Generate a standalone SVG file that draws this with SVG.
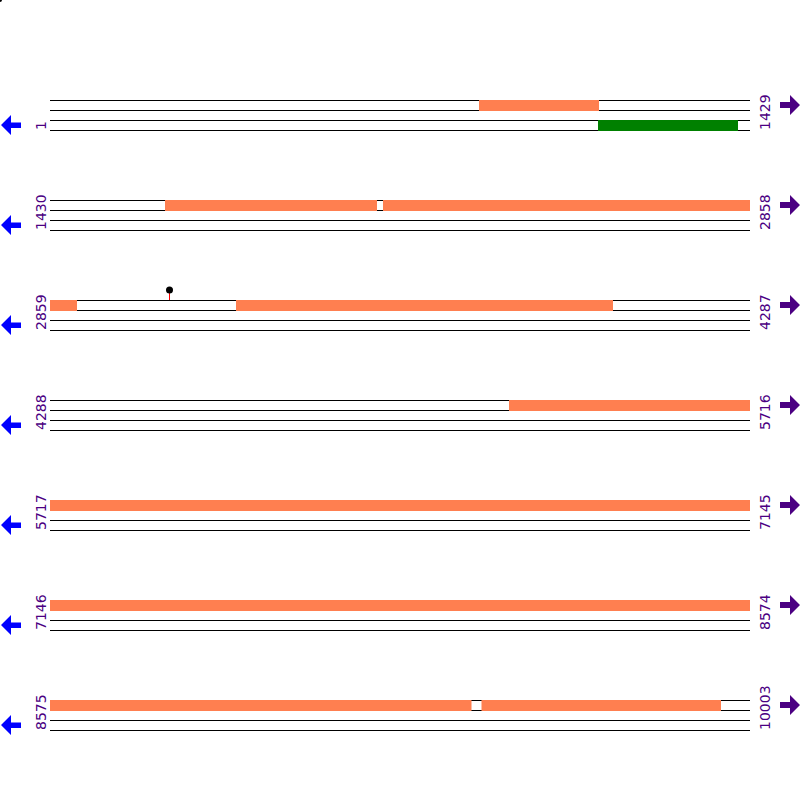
<svg xmlns="http://www.w3.org/2000/svg" width="800" height="800" viewBox="0 0 800 800">
<style>
.trk{stroke:#000;stroke-width:1;fill:none}
.orf{fill:#FF7F50}
.grn{fill:#008000}
.lbl{font-family:"DejaVu Sans",sans-serif;font-size:14px;fill:#4B0082}
.la{fill:#0000FF}
.ra{fill:#4B0082}
</style>
<defs>
<g id="tracks">
<line class="trk" x1="50" y1="0.5" x2="750" y2="0.5"/>
<line class="trk" x1="50" y1="10.5" x2="750" y2="10.5"/>
<line class="trk" x1="50" y1="20.5" x2="750" y2="20.5"/>
<line class="trk" x1="50" y1="30.5" x2="750" y2="30.5"/>
</g>
<polygon id="larrow" points="1,25 11,15 11,22.5 21,22.5 21,28 11,28 11,35"/>
<polygon id="rarrow" points="780,2 790,2 790,-5 800,5 790,15 790,8 780,8"/>
</defs>
<rect width="800" height="800" fill="#fff"/>
<circle cx="0" cy="0" r="2" fill="#000"/>

<g id="row1" transform="translate(0,100)">
<use href="#tracks"/>
<rect class="orf" x="479" y="0" width="120" height="11"/>
<rect class="grn" x="598" y="20" width="140" height="11"/>
<use href="#larrow" class="la"/>
<use href="#rarrow" class="ra"/>
<text class="lbl" transform="translate(46,30) rotate(-90)">1</text>
<text class="lbl" transform="translate(770,30) rotate(-90)">1429</text>
</g>

<g id="row2" transform="translate(0,200)">
<use href="#tracks"/>
<rect class="orf" x="165" y="0" width="212" height="11"/>
<rect class="orf" x="383" y="0" width="367" height="11"/>
<use href="#larrow" class="la"/>
<use href="#rarrow" class="ra"/>
<text class="lbl" transform="translate(46,30) rotate(-90)">1430</text>
<text class="lbl" transform="translate(770,30) rotate(-90)">2858</text>
</g>

<g id="row3" transform="translate(0,300)">
<use href="#tracks"/>
<rect class="orf" x="50" y="0" width="27" height="11"/>
<rect class="orf" x="236" y="0" width="377" height="11"/>
<line x1="169.5" y1="-7" x2="169.5" y2="0" stroke="#FF0000" stroke-width="1"/>
<circle cx="169.5" cy="-10" r="3.5" fill="#000"/>
<use href="#larrow" class="la"/>
<use href="#rarrow" class="ra"/>
<text class="lbl" transform="translate(46,30) rotate(-90)">2859</text>
<text class="lbl" transform="translate(770,30) rotate(-90)">4287</text>
</g>

<g id="row4" transform="translate(0,400)">
<use href="#tracks"/>
<rect class="orf" x="509" y="0" width="241" height="11"/>
<use href="#larrow" class="la"/>
<use href="#rarrow" class="ra"/>
<text class="lbl" transform="translate(46,30) rotate(-90)">4288</text>
<text class="lbl" transform="translate(770,30) rotate(-90)">5716</text>
</g>

<g id="row5" transform="translate(0,500)">
<use href="#tracks"/>
<rect class="orf" x="50" y="0" width="700" height="11"/>
<use href="#larrow" class="la"/>
<use href="#rarrow" class="ra"/>
<text class="lbl" transform="translate(46,30) rotate(-90)">5717</text>
<text class="lbl" transform="translate(770,30) rotate(-90)">7145</text>
</g>

<g id="row6" transform="translate(0,600)">
<use href="#tracks"/>
<rect class="orf" x="50" y="0" width="700" height="11"/>
<use href="#larrow" class="la"/>
<use href="#rarrow" class="ra"/>
<text class="lbl" transform="translate(46,30) rotate(-90)">7146</text>
<text class="lbl" transform="translate(770,30) rotate(-90)">8574</text>
</g>

<g id="row7" transform="translate(0,700)">
<use href="#tracks"/>
<rect class="orf" x="50" y="0" width="421.5" height="11"/>
<rect class="orf" x="481.5" y="0" width="239.5" height="11"/>
<use href="#larrow" class="la"/>
<use href="#rarrow" class="ra"/>
<text class="lbl" transform="translate(46,30) rotate(-90)">8575</text>
<text class="lbl" transform="translate(770,30) rotate(-90)">10003</text>
</g>
<g id="connectors"/>
</svg>
